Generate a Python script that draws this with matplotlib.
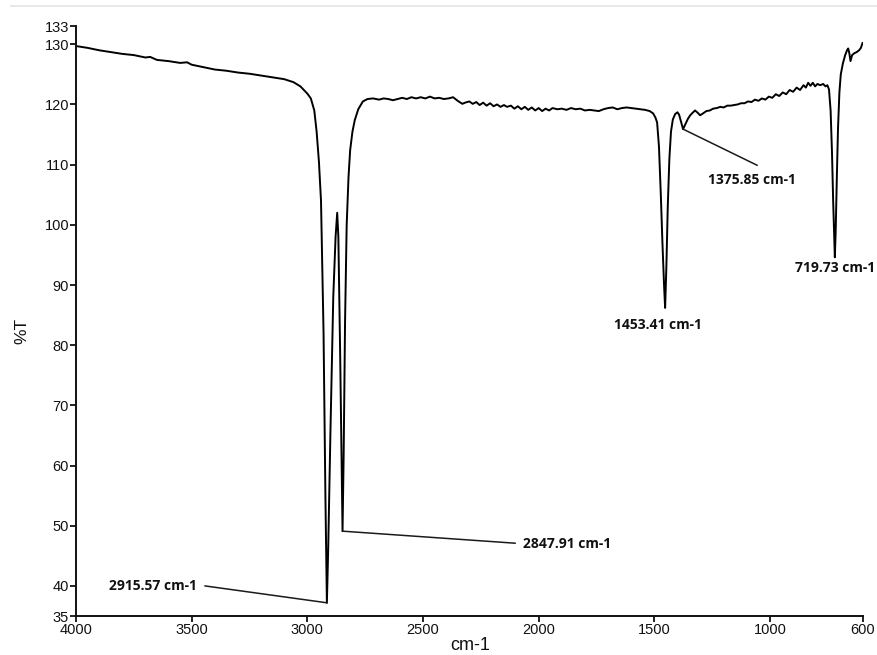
import matplotlib
matplotlib.use("Agg")
import matplotlib.pyplot as plt
from matplotlib.lines import Line2D

# FTIR spectrum: wavenumber (cm-1) and transmittance (%T)
wavenumber = [
    4000, 3950, 3900, 3850, 3800, 3750, 3700, 3680, 3650, 3600, 3550, 3520,
    3500, 3450, 3400, 3350, 3300, 3250, 3200, 3150, 3100, 3060, 3030, 3000,
    2985, 2970, 2960, 2950, 2941, 2930, 2922, 2915.57, 2910, 2900, 2888,
    2878, 2871, 2866, 2858, 2851, 2847.91, 2843, 2837, 2830, 2822, 2815,
    2805, 2795, 2780, 2760, 2740, 2716, 2690, 2670, 2650, 2630, 2610, 2590,
    2570, 2550, 2530, 2510, 2490, 2470, 2450, 2430, 2410, 2390, 2370, 2350,
    2330, 2318, 2300, 2285, 2270, 2255, 2240, 2225, 2210, 2195, 2180, 2165,
    2150, 2137, 2120, 2105, 2090, 2075, 2060, 2045, 2030, 2015, 2000, 1985,
    1970, 1955, 1940, 1920, 1900, 1880, 1860, 1840, 1820, 1800, 1780, 1760,
    1740, 1720, 1700, 1680, 1660, 1640, 1620, 1600, 1580, 1562, 1540, 1520,
    1505, 1495, 1488, 1480, 1472, 1465, 1458, 1453.41, 1448, 1442, 1435,
    1428, 1420, 1410, 1400, 1393, 1385, 1375.85, 1365, 1355, 1345, 1335,
    1324, 1312, 1302, 1290, 1275, 1260, 1246, 1230, 1215, 1200, 1185, 1170,
    1155, 1140, 1125, 1110, 1095, 1080, 1065, 1050, 1035, 1020, 1005, 990,
    975, 960, 945, 930, 915, 900, 885, 870, 855, 845, 835, 825, 815, 805,
    795, 783, 770, 760, 752, 745, 738, 732, 727, 722, 719.73, 716, 711, 706,
    700, 694, 685, 675, 667, 662, 657, 652, 645, 636, 625, 615, 607, 600,
]
transmittance = [
    129.7, 129.4, 129.0, 128.7, 128.4, 128.2, 127.8, 127.9, 127.4, 127.2,
    126.9, 127.0, 126.6, 126.2, 125.8, 125.6, 125.3, 125.1, 124.8, 124.5,
    124.2, 123.7, 123.0, 121.8, 121.0, 119.0, 115.5, 110.5, 104.0, 82.0,
    55.0, 37.2, 46.0, 66.0, 88.0, 98.0, 102.0, 98.0, 78.0, 58.0, 49.1, 62.0,
    84.0, 100.0, 108.0, 112.4, 115.5, 117.4, 119.2, 120.5, 120.9, 121.0,
    120.8, 121.0, 120.9, 120.7, 120.9, 121.1, 120.9, 121.2, 121.0, 121.2,
    121.0, 121.3, 121.0, 121.1, 120.9, 121.0, 121.2, 120.6, 120.1, 120.3,
    120.5, 120.1, 120.4, 119.9, 120.3, 119.8, 120.2, 119.7, 120.0, 119.6,
    119.9, 119.6, 119.8, 119.3, 119.7, 119.2, 119.6, 119.1, 119.5, 119.0,
    119.4, 118.9, 119.3, 119.0, 119.4, 119.2, 119.3, 119.1, 119.4, 119.2,
    119.3, 119.0, 119.1, 119.0, 118.9, 119.2, 119.4, 119.5, 119.2, 119.4,
    119.5, 119.4, 119.3, 119.2, 119.1, 118.9, 118.5, 117.8, 117.0, 113.0,
    105.0, 97.0, 90.0, 86.2, 93.0, 103.0, 111.0, 115.5, 117.5, 118.4, 118.7,
    118.3, 117.2, 115.9, 116.8, 117.6, 118.2, 118.6, 119.0, 118.6, 118.2,
    118.5, 118.9, 119.0, 119.3, 119.4, 119.6, 119.5, 119.8, 119.8, 119.9,
    120.0, 120.2, 120.2, 120.5, 120.4, 120.8, 120.6, 121.0, 120.8, 121.3,
    121.1, 121.7, 121.4, 122.0, 121.7, 122.4, 122.1, 122.8, 122.4, 123.2,
    122.8, 123.6, 123.1, 123.6, 123.0, 123.4, 123.2, 123.4, 123.0, 123.2,
    122.5, 119.0, 112.0, 104.0, 97.5, 94.6, 99.0, 108.0, 116.0, 122.0, 125.0,
    126.8, 128.2, 129.0, 129.3, 128.5, 127.2, 128.2, 128.5, 128.7, 129.0,
    129.4, 130.2,
]

# Peak labels: text, peak position, text position, optional leader-line end
peak_labels = ["2915.57 cm-1", "2847.91 cm-1", "1453.41 cm-1", "1375.85 cm-1", "719.73 cm-1"]
peak_x = [2915.57, 2847.91, 1453.41, 1375.85, 719.73]
peak_y = [37.2, 49.1, 86.2, 115.9, 94.6]
label_x = [3667, 2067, 1484, 1077, 718]
label_y = [40.0, 47.0, 83.4, 107.4, 92.9]
leader_end_x = [3442, 2102, None, 1056, None]
leader_end_y = [40.0, 47.1, None, 109.9, None]
label_ha = ["center", "left", "center", "center", "center"]

x_ticks = [4000, 3500, 3000, 2500, 2000, 1500, 1000, 600]
y_ticks = [35, 40, 50, 60, 70, 80, 90, 100, 110, 120, 130, 133]

fig = plt.figure(figsize=(8.77, 6.55), dpi=100)
fig.patch.set_facecolor("white")
ax = fig.add_axes([0.0867, 0.0595, 0.8968, 0.9005])

ax.plot(wavenumber, transmittance, color="black", lw=1.4, solid_joinstyle="round")

ax.set_xlim(4000, 600)
ax.set_ylim(35, 133)
ax.set_xticks(x_ticks)
ax.set_yticks(y_ticks)

for side in ("top", "right"):
    ax.spines[side].set_visible(False)
for side in ("left", "bottom"):
    ax.spines[side].set_linewidth(1.4)
    ax.spines[side].set_color("#111111")

sans = ["Liberation Sans", "DejaVu Sans"]
ax.tick_params(axis="both", direction="out", length=4, width=1.3, color="#111111", pad=1)
for lbl in ax.get_xticklabels() + ax.get_yticklabels():
    lbl.set_fontfamily(sans)
    lbl.set_fontsize(10.5)
    lbl.set_color("#111111")

fig.text(22 / 877, 1 - 331 / 655, "%T", rotation=90, ha="center", va="center",
         fontsize=12.5, family=sans, color="#111111")
fig.text(470 / 877, 1 - 645 / 655, "cm-1", ha="center", va="center",
         fontsize=13, family=sans, color="#111111")

# faint rule along the top edge
fig.add_artist(Line2D([11 / 877, 1.0], [1 - 6 / 655, 1 - 6 / 655],
                      transform=fig.transFigure, color="#e4e4e4", lw=1.2))

for i, txt in enumerate(peak_labels):
    if leader_end_x[i] is not None:
        ax.plot([peak_x[i], leader_end_x[i]], [peak_y[i], leader_end_y[i]],
                color="#1a1a1a", lw=1.1)
    ax.text(label_x[i], label_y[i], txt, ha=label_ha[i], va="center",
            fontsize=10, fontweight="bold",
            family=["Open Sans", "DejaVu Sans"], color="#111111")

fig.savefig("out.png", dpi=100, facecolor="white")
